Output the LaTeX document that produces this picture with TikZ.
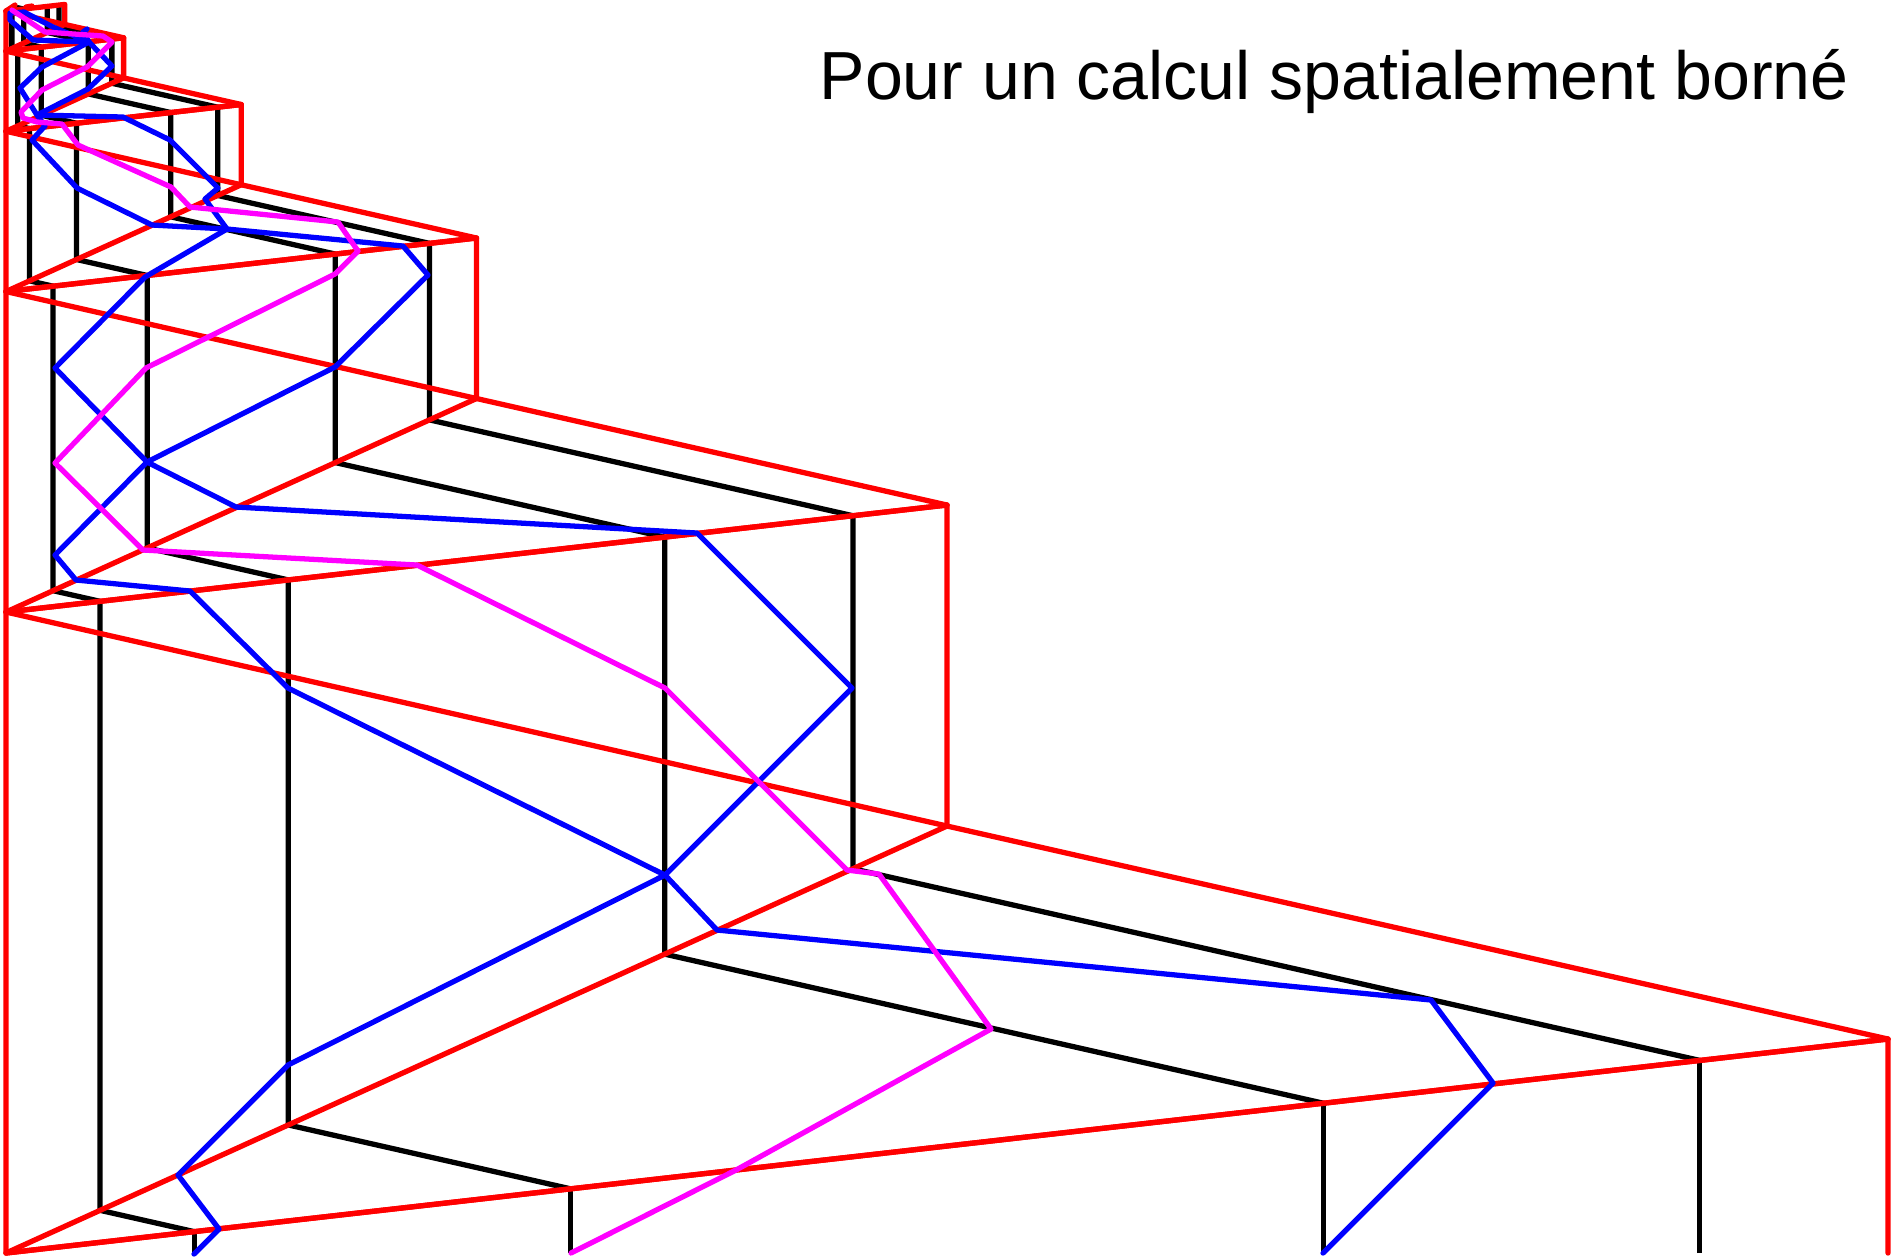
\documentclass[tikz,border=0pt]{standalone}
\usepackage{tikz}
\usepackage{xcolor}
\usepackage{fontspec}
\setmainfont{Liberation Sans}
\definecolor{borneRed}{RGB}{255, 0, 0}
\definecolor{borneBlue}{RGB}{0, 0, 255}
\definecolor{borneMagenta}{RGB}{255, 0, 255}
\tikzset{
    redline/.style={line width=1.5pt, borneRed, line join=round, line cap=round},
    blackline/.style={line width=1.5pt, black, line join=round},
    blueline/.style={line width=1.5pt, borneBlue, line join=round, line cap=round},
    magline/.style={line width=1.5pt, borneMagenta, line join=round, line cap=round}
}

\begin{document}
\begin{tikzpicture}[x=0.01cm, y=-0.01cm]
    \useasboundingbox (0,0) rectangle (1898,1256);
    % black chains, halved at each level
    \foreach \s in {1,0.5,0.25,0.125,0.0625} {
        \begin{scope}[shift={(6,-29)}, scale=\s]
            \foreach \f in {0.1,0.3,0.7,0.9}
                \draw[blackline] ({\f*1882},{1282-214*\f}) -- ({\f*941},{1282-427*\f}) -- ({\f*941},{641-107*\f});
        \end{scope}
    }
    \begin{scope}[shift={(6,-29)}, scale=0.03125]
        \foreach \f in {0.1,0.3}
            \draw[blackline] ({\f*1882},{1282-214*\f}) -- ({\f*941},{1282-427*\f});
    \end{scope}
    \foreach \f in {0.1,0.3,0.7,0.9}
        \draw[blackline, shift={(6,-29)}] ({\f*1882},1282) -- ({\f*1882},{1282-214*\f});
    % red frame
    \foreach \s in {1,0.5,0.25,0.125,0.0625} {
        \begin{scope}[shift={(6,-29)}, scale=\s]
            \draw[redline] (0,641) -- (941,855) -- (1882,1068);
            \draw[redline] (0,1282) -- (941,855) -- (941,534) -- (0,641);
            \draw[redline] (0,1282) -- (1882,1068);
        \end{scope}
    }
    \draw[redline] (6,11) -- (6,1253) -- (1888,1039) -- (1888,1253);
    \draw[redline] (15,5) -- (6,11) -- (14,10);
    \draw[redline] (26,7) -- (32,6);
    % blue
    \draw[blueline] (194,1254) -- (219,1229) -- (178,1175) -- (288,1065) -- (665,875) -- (717,930) -- (1431,1000) -- (1493,1083) -- (1323,1253);
    \draw[blueline] (665,875) -- (852,688) -- (697,533) -- (236,507) -- (147,462) -- (55,555) -- (76,580) -- (190,591) -- (288,688) -- (665,875);
    \draw[blueline] (147,462) -- (335,367) -- (428,275) -- (403,246) -- (227,229) -- (145,277) -- (55,368) -- (147,462);
    \draw[blueline] (227,229) -- (205,199) -- (218,188) -- (170,140) -- (123,117) -- (37,115) -- (45,126) -- (32,140) -- (77,188) -- (152,225) -- (227,229);
    \draw[blueline] (37,115) -- (88,89) -- (112,66) -- (89,42) -- (42,67) -- (20,88) -- (37,115);
    \draw[blueline] (89,42) -- (83,32) -- (87,29);
    \draw[blueline] (89,42) -- (33,40) -- (10,20) -- (10,13) -- (24,12) -- (53,27) -- (89,42);
    % magenta
    \draw[magline] (571,1253) -- (736,1170) -- (991,1029) -- (879,874) -- (847,870) -- (665,688) -- (417,565) -- (143,550) -- (55,463) -- (146,368) -- (335,274) -- (358,251) -- (338,222) -- (190,207) -- (171,187) -- (78,145) -- (62,124) -- (37,122) -- (23,118) -- (21,112) -- (42,90) -- (87,67) -- (112,42) -- (103,36) -- (45,32) -- (12,10);
    \node[anchor=base west, inner sep=0pt, font=\fontsize{19.35}{23}\selectfont] (titre) at (819,99) {Pour un calcul spatialement born\'e};
\end{tikzpicture}
\end{document}
